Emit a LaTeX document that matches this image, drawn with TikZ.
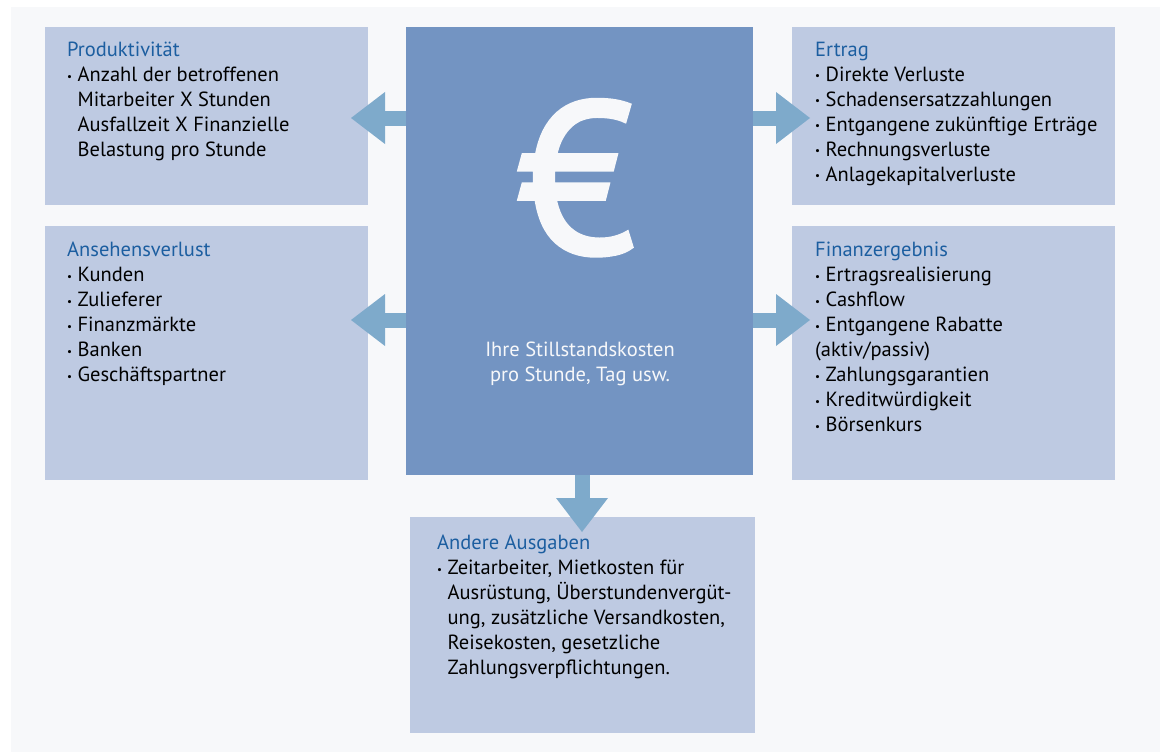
\documentclass[tikz,border=0pt]{standalone}
\usepackage{fontspec}
\setmainfont{PT Sans}
\newfontfamily\eurofont[FakeBold=2]{PT Sans}
\usepackage{tikz}
\usetikzlibrary{positioning,arrows.meta}

\definecolor{boxblue}{RGB}{190,202,226}
\definecolor{midblue}{RGB}{115,148,194}
\definecolor{arrowblue}{RGB}{126,170,203}
\definecolor{titleblue}{RGB}{28,94,160}
\definecolor{bggrey}{RGB}{247,248,250}

\newcommand{\itm}{\raisebox{1.6pt}{\fontsize{11}{11}\selectfont\textbullet}\ }
\newcommand{\ind}{\hphantom{\itm}}
\newcommand{\ttl}[1]{\textcolor{titleblue}{#1}}

\begin{document}
\begin{tikzpicture}[x=1pt,y=-1pt,
	box/.style={fill=boxblue,anchor=north west,inner sep=0pt,outer sep=0pt},
	txt/.style={anchor=north west,align=left,inner sep=0pt,font=\fontsize{20.5}{25}\selectfont},
	bigarrow/.style={draw=arrowblue,line width=15pt,-{Triangle[width=52pt,length=34pt,line width=0pt]}}]
		\useasboundingbox (0,0) rectangle (1160,752);
		\fill[bggrey] (11,7) rectangle (1160,752);
		% Kaesten
		\node[box,minimum width=323pt,minimum height=178pt] (prod) at (45,27) {};
		\node[box,minimum width=323pt,minimum height=254pt] (anse) at (45,226) {};
		\node[box,fill=midblue,minimum width=347pt,minimum height=448pt] (geld) at (406,27) {};
		\node[box,minimum width=323pt,minimum height=178pt] (ertrag) at (792,27) {};
		\node[box,minimum width=323pt,minimum height=254pt] (finanz) at (792,226) {};
		\node[box,minimum width=345pt,minimum height=216pt] (ausg) at (410,517) {};
		% Pfeile
		\draw[bigarrow] (geld.west |- 0,118) -- ([xshift=-17pt]prod.east |- 0,118);
		\draw[bigarrow] (geld.west |- 0,320) -- ([xshift=-17pt]anse.east |- 0,320);
		\draw[bigarrow] (geld.east |- 0,118) -- ([xshift=18pt]ertrag.west |- 0,118);
		\draw[bigarrow] (geld.east |- 0,320) -- ([xshift=18pt]finanz.west |- 0,320);
		\draw[bigarrow] (geld.south -| 582,0) -- ([yshift=-15pt]ausg.north -| 582,0);
		% Mitte
		\node[font=\eurofont\fontsize{215}{215}\selectfont,text=bggrey,inner sep=0pt,anchor=base] (euro) at (576,253) {€};
		\node[txt,anchor=north,align=center,text=bggrey] (kosten) at (580,342) {Ihre Stillstandskosten\\pro Stunde, Tag usw.};
		% Texte
		\node[txt] (prodtxt) at ([shift={(22,15)}]prod.north west) {\ttl{Produktivität}\\
			\itm Anzahl der betroffenen\\ \ind Mitarbeiter X Stunden\\ \ind Ausfallzeit X Finanzielle\\ \ind Belastung pro Stunde};
		\node[txt] (ansetxt) at ([shift={(22,16)}]anse.north west) {\ttl{Ansehensverlust}\\
			\itm Kunden\\ \itm Zulieferer\\ \itm Finanzmärkte\\ \itm Banken\\ \itm Geschäftspartner};
		\node[txt] (ertragtxt) at ([shift={(23,15)}]ertrag.north west) {\ttl{Ertrag}\\
			\itm Direkte Verluste\\ \itm Schadensersatzzahlungen\\ \itm Entgangene zukünftige Erträge\\ \itm Rechnungsverluste\\ \itm Anlagekapitalverluste};
		\node[txt] (finanztxt) at ([shift={(23,16)}]finanz.north west) {\ttl{Finanzergebnis}\\
			\itm Ertragsrealisierung\\ \itm Cashflow\\ \itm Entgangene Rabatte\\ (aktiv/passiv)\\ \itm Zahlungsgarantien\\ \itm Kreditwürdigkeit\\ \itm Börsenkurs};
		\node[txt] (ausgtxt) at ([shift={(27,18)}]ausg.north west) {\ttl{Andere Ausgaben}\\
			\itm Zeitarbeiter, Mietkosten für\\ \ind Ausrüstung, Überstundenvergüt-\\ \ind ung, zusätzliche Versandkosten,\\ \ind Reisekosten, gesetzliche\\ \ind Zahlungsverpflichtungen.};
		\end{tikzpicture}
\end{document}
